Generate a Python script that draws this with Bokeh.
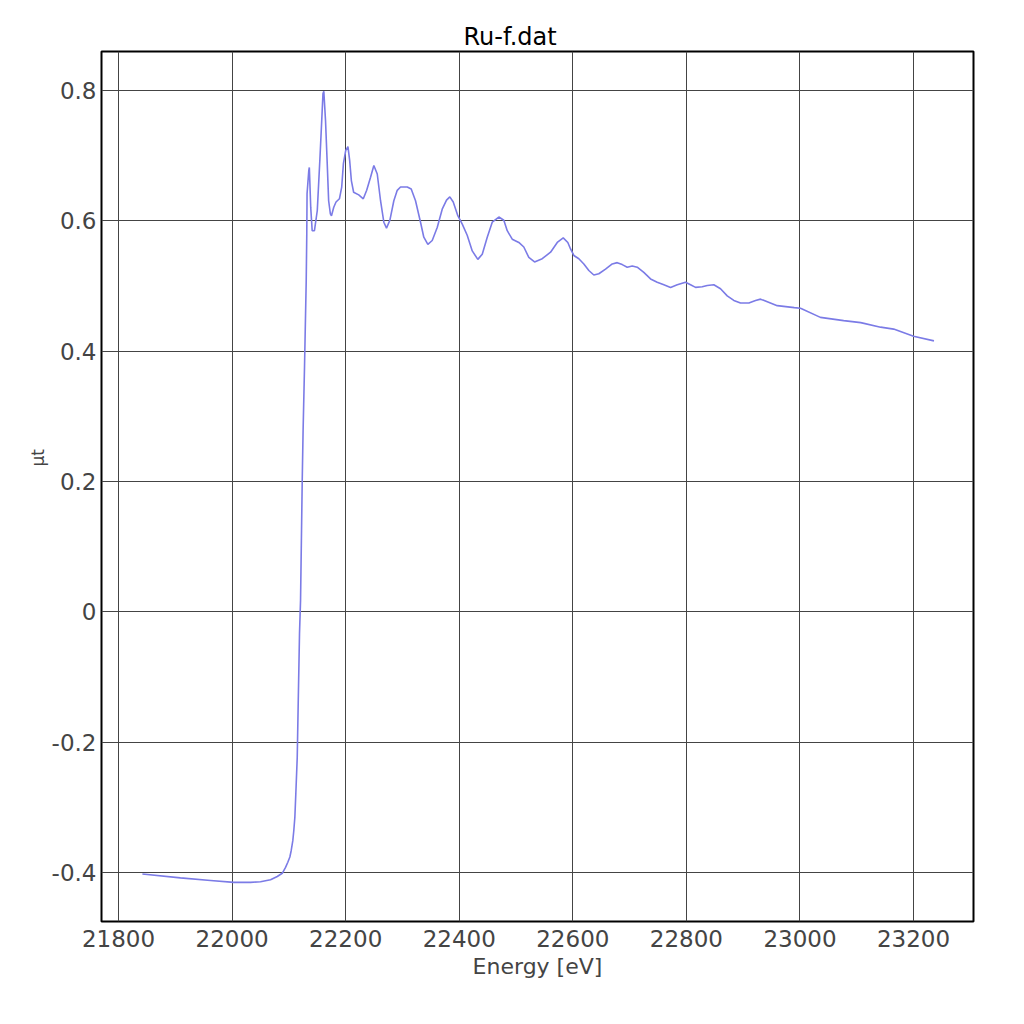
from bokeh.plotting import figure
from bokeh.models import FixedTicker, Range1d, Title
from bokeh.embed import file_html
from bokeh.resources import INLINE

energy = [21842, 21909, 21962, 22003, 22032.5, 22050, 22067.7, 22079.5, 22088.3, 22094.1,
          22098.1, 22101.7, 22104.1, 22106.9, 22108.7, 22110.5, 22112.2, 22114.7, 22116.5, 22118.7,
          22120.5, 22123.5, 22125, 22127.5, 22130.5, 22131.5, 22132, 22135, 22136, 22138.5,
          22141, 22145, 22150, 22154.5, 22157, 22160, 22161.5, 22164.5, 22167.5, 22170,
          22173, 22175, 22179, 22183, 22189, 22193, 22196, 22200, 22204, 22207,
          22210, 22214, 22223, 22231, 22237, 22243.8, 22249.6, 22255.6, 22261.4, 22267.2,
          22271.9, 22277.8, 22284.8, 22290.8, 22296.6, 22308.4, 22315.4, 22323, 22331.8, 22337.6,
          22344.7, 22352.4, 22361.2, 22370, 22377.6, 22383.4, 22389.4, 22397.5, 22405.3, 22414,
          22422.9, 22432.7, 22440.5, 22449.3, 22458.1, 22469.7, 22478.5, 22484.5, 22493.3, 22504.9,
          22513.7, 22522.5, 22532.6, 22546.1, 22560.8, 22572.6, 22583.1, 22591.2, 22596, 22601.8,
          22610.6, 22619.4, 22628.2, 22637, 22645.8, 22657.6, 22669.4, 22678.2, 22687, 22695.8,
          22704.6, 22713.4, 22725, 22736.9, 22748.6, 22760.3, 22772.1, 22783.9, 22798.5, 22807.3,
          22816.1, 22827.9, 22836.7, 22848.3, 22860.1, 22871.9, 22883.5, 22895.3, 22910, 22921.8,
          22930.6, 22960, 22990, 23001, 23036, 23077, 23107, 23142, 23165, 23200,
          23236]
mu_t = [-0.402, -0.408, -0.412, -0.415, -0.415, -0.414, -0.411, -0.406, -0.401, -0.392,
        -0.384, -0.376, -0.366, -0.351, -0.335, -0.315, -0.279, -0.223, -0.136, -0.033,
        0.017, 0.202, 0.278, 0.375, 0.508, 0.580, 0.642, 0.677, 0.682, 0.620,
        0.585, 0.585, 0.616, 0.693, 0.739, 0.795, 0.799, 0.754, 0.688, 0.631,
        0.611, 0.608, 0.621, 0.629, 0.634, 0.652, 0.688, 0.708, 0.714, 0.693,
        0.662, 0.644, 0.640, 0.634, 0.647, 0.667, 0.685, 0.672, 0.631, 0.598,
        0.589, 0.601, 0.631, 0.647, 0.652, 0.652, 0.649, 0.631, 0.598, 0.575,
        0.564, 0.570, 0.590, 0.618, 0.632, 0.637, 0.629, 0.608, 0.595, 0.578,
        0.554, 0.541, 0.549, 0.575, 0.598, 0.606, 0.601, 0.585, 0.572, 0.567,
        0.560, 0.544, 0.537, 0.542, 0.552, 0.567, 0.574, 0.567, 0.557, 0.547,
        0.542, 0.534, 0.524, 0.517, 0.519, 0.526, 0.534, 0.536, 0.533, 0.529,
        0.531, 0.529, 0.521, 0.511, 0.506, 0.502, 0.498, 0.502, 0.506, 0.502,
        0.498, 0.499, 0.501, 0.502, 0.496, 0.485, 0.478, 0.474, 0.474, 0.478,
        0.480, 0.470, 0.467, 0.466, 0.452, 0.447, 0.444, 0.437, 0.434, 0.423,
        0.416]

x_ticks = [21800, 22000, 22200, 22400, 22600, 22800, 23000, 23200]
y_ticks = [-0.4, -0.2, 0, 0.2, 0.4, 0.6, 0.8]
y_tick_labels = ["-0.4", "-0.2", "0", "0.2", "0.4", "0.6", "0.8"]

FONT = "DejaVu Sans"

p = figure(width=1008, height=1008, output_backend="svg", toolbar_location=None,
           x_range=Range1d(21770, 23305.6), y_range=Range1d(-0.475, 0.860),
           min_border_left=101, min_border_right=35, min_border_top=51, min_border_bottom=87,
           title="Ru-f.dat")

p.title.text_font = FONT
p.title.text_font_size = "24px"
p.title.text_font_style = "normal"
p.title.text_color = "black"
p.title.align = "left"
p.title.offset = 362
p.title.standoff = 2

p.outline_line_color = "black"
p.outline_line_width = 2
p.background_fill_color = "white"
p.border_fill_color = "white"

p.xaxis.ticker = FixedTicker(ticks=x_ticks)
p.yaxis.ticker = FixedTicker(ticks=y_ticks)
p.yaxis.major_label_overrides = {v: s for v, s in zip(y_ticks, y_tick_labels)}

for ax in (p.xaxis[0], p.yaxis[0]):
    ax.axis_line_color = None
    ax.major_tick_line_color = None
    ax.minor_tick_line_color = None
    ax.major_tick_out = 0
    ax.major_tick_in = 0
    ax.major_label_text_font = FONT
    ax.major_label_text_font_size = "23px"
    ax.major_label_text_color = "#444444"
    ax.axis_label_text_font = FONT
    ax.axis_label_text_font_style = "normal"
    ax.axis_label_text_color = "#444444"

p.xaxis.major_label_standoff = 8
p.yaxis.major_label_standoff = 5
p.xaxis.axis_label = "Energy [eV]"
p.xaxis.axis_label_text_font_size = "22px"
p.xaxis.axis_label_standoff = 4

p.xgrid.grid_line_color = "#444444"
p.ygrid.grid_line_color = "#444444"
p.xgrid.grid_line_width = 1
p.ygrid.grid_line_width = 1

p.line(energy, mu_t, line_color="#7b7be6", line_width=1.6)

ylab = Title(text="μt", align="left", offset=455, standoff=2,
             text_font=FONT, text_font_size="17px", text_font_style="normal",
             text_color="#444444")
p.add_layout(ylab, "left")

open("out.html", "w").write(file_html(p, INLINE))
